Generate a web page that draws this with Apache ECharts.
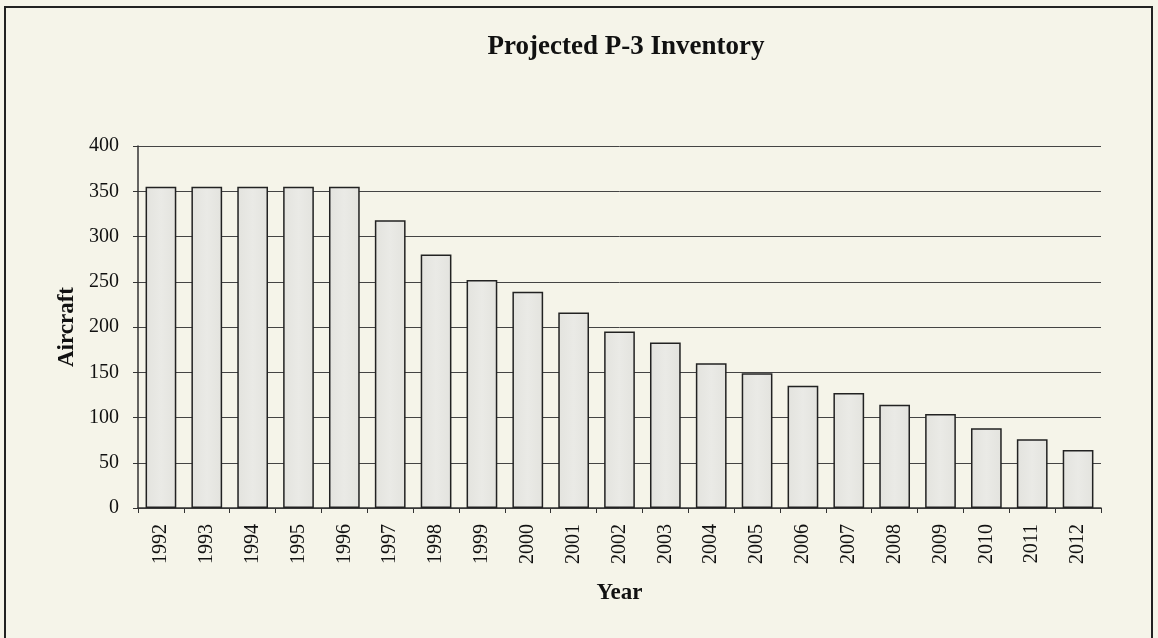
<!DOCTYPE html>
<html>
<head>
<meta charset="utf-8">
<script src="https://cdn.jsdelivr.net/npm/echarts@6/dist/echarts.min.js"></script>
<style>
  html, body { margin: 0; padding: 0; background: #f5f4e9; }
  #chart { width: 1158px; height: 638px; }
</style>
</head>
<body>
<div id="chart"></div>
<script>
// data
const years = ['1992', '1993', '1994', '1995', '1996', '1997', '1998', '1999', '2000', '2001',
  '2002', '2003', '2004', '2005', '2006', '2007', '2008', '2009', '2010', '2011', '2012']
const aircraft = [355, 355, 355, 355, 355, 318, 280, 252, 239, 216,
  195, 183, 160, 149, 135, 127, 114, 104, 88, 76, 64]
const yTicks = [0, 50, 100, 150, 200, 250, 300, 350, 400]

const serif = '"Liberation Serif", "DejaVu Serif", serif'
const myChart = echarts.init(document.getElementById('chart'))

const option = {
  backgroundColor: '#f5f4e9',
  animation: false,
  title: {
    text: 'Projected P-3 Inventory',
    left: 621,
    textAlign: 'center',
    top: 29,
    textStyle: { fontFamily: serif, fontSize: 27, fontWeight: 'bold', color: '#111' }
  },
  graphic: [
    {
      type: 'rect',
      shape: { x: 5, y: 7, width: 1147, height: 660 },
      style: { fill: 'none', stroke: '#222', lineWidth: 2 },
      silent: true
    }
  ],
  grid: { left: 138, right: 57, top: 146, bottom: 130 },
  xAxis: {
    type: 'category',
    data: years,
    name: 'Year',
    nameLocation: 'middle',
    nameGap: 74,
    nameTextStyle: { fontFamily: serif, fontSize: 23, fontWeight: 'bold', color: '#111' },
    axisLine: { lineStyle: { color: '#333', width: 1.5 } },
    axisTick: { show: true, length: 5, lineStyle: { color: '#333' } },
    axisLabel: { rotate: 90, margin: 16, fontFamily: serif, fontSize: 20, color: '#111' }
  },
  yAxis: {
    type: 'value',
    min: 0,
    max: 400,
    interval: 50,
    name: 'Aircraft',
    nameLocation: 'middle',
    nameRotate: 90,
    nameGap: 58,
    nameTextStyle: { fontFamily: serif, fontSize: 23, fontWeight: 'bold', color: '#111' },
    axisLine: { show: true, lineStyle: { color: '#333', width: 1.5 } },
    axisTick: { show: true, length: 5, lineStyle: { color: '#333' } },
    axisLabel: {
      margin: 19,
      fontFamily: serif,
      fontSize: 20,
      color: '#111',
      formatter: v => (yTicks.includes(v) ? String(v) : '')
    },
    splitLine: { show: true, lineStyle: { color: '#444', width: 1 } }
  },
  series: [
    {
      type: 'bar',
      data: aircraft,
      barCategoryGap: '33%',
      itemStyle: {
        color: new echarts.graphic.LinearGradient(0, 0, 1, 0, [
          { offset: 0, color: '#e3e3de' },
          { offset: 0.5, color: '#eaeae6' },
          { offset: 1, color: '#e3e3de' }
        ]),
        borderColor: '#222',
        borderWidth: 1.5
      }
    }
  ]
}

myChart.setOption(option)
</script>
</body>
</html>
